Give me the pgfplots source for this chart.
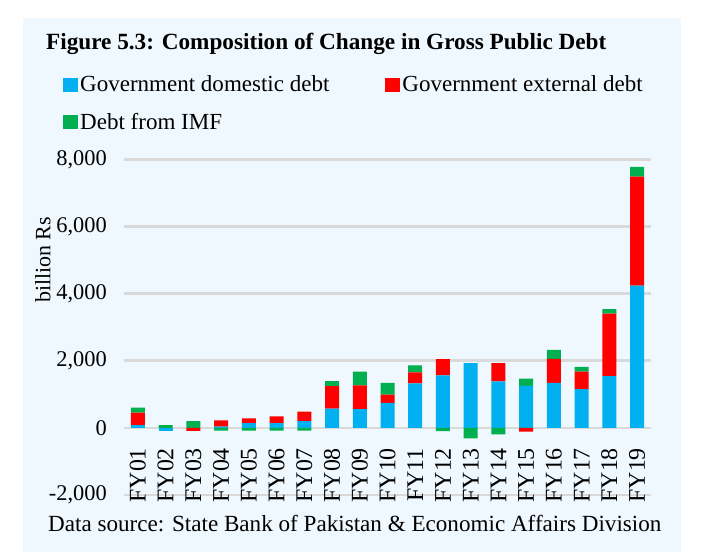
\documentclass[border=0pt]{standalone}
\usepackage{pgfplots}
\pgfplotsset{compat=1.18}
\usepackage{pgfplotstable}
\usepackage{fontspec}
\setmainfont{Liberation Serif}
\definecolor{panel}{RGB}{239,248,254}
\definecolor{cdom}{RGB}{0,176,240}
\definecolor{cext}{RGB}{255,0,0}
\definecolor{cimf}{RGB}{0,176,80}
\definecolor{gridc}{RGB}{217,217,217}

% positive parts of each year's change (billion Rs)
\pgfplotstableread{
x dom ext imf
0 80 375 150
1 0 0 80
2 0 0 200
3 40 180 0
4 140 140 0
5 140 200 0
6 200 285 0
7 575 665 150
8 555 707 415
9 747 243 353
10 1323 333 202
11 1566 484 0
12 1929 0 0
13 1384 545 0
14 1252 0 213
15 1340 716 268
16 1152 526 139
17 1539 1867 129
18 4240 3247 288
}\pos

% negative parts
\pgfplotstableread{
x dom ext imf
0 0 0 0
1 -100 0 0
2 0 -90 0
3 0 0 -80
4 0 0 -80
5 0 0 -80
6 0 0 -80
7 0 0 0
8 0 0 0
9 0 0 0
10 0 0 0
11 0 0 -100
12 0 0 -313
13 0 0 -192
14 0 -110 0
15 0 0 0
16 0 0 0
17 0 0 0
18 0 0 0
}\negs

\pgfplotsset{
  myaxis/.style={
    at={(124bp,65bp)}, anchor=south west,
    scale only axis, width=527bp, height=335.7bp,
    xmin=-0.5, xmax=18.5, ymin=-2000, ymax=8000,
    ybar stacked, bar width=14bp,
  },
}

\begin{document}
\begin{tikzpicture}
\fill[white] (0bp,0bp) rectangle (704bp,560bp);
\fill[panel] (22.7bp,8.3bp) rectangle (681bp,542bp);
\node[anchor=base west, inner sep=0pt, font=\fontsize{23.3}{26}\selectfont\bfseries] at (46bp,510bp) {Figure 5.3: Composition of Change in Gross Public Debt};
\node[anchor=base west, inner sep=0pt, font=\fontsize{23.2}{26}\selectfont] at (48bp,28.3bp) {Data source: State Bank of Pakistan \& Economic Affairs Division};

\begin{axis}[myaxis,
  axis x line*=middle, axis y line*=left,
  x axis line style={draw=none}, y axis line style={draw=none},
  xtick style={draw=none}, ytick style={draw=none},
  xtick={0,...,18},
  xticklabels={FY01,FY02,FY03,FY04,FY05,FY06,FY07,FY08,FY09,FY10,FY11,FY12,FY13,FY14,FY15,FY16,FY17,FY18,FY19},
  xticklabel style={font=\fontsize{24}{26}\selectfont, inner sep=0pt, yshift=-20bp, rotate=90, anchor=east},
  ytick={-2000,0,2000,4000,6000,8000},
  scaled y ticks=false,
  /pgf/number format/assume math mode=true,
  /pgf/number format/1000 sep={,},
  yticklabel style={font=\fontsize{22.5}{26}\selectfont, inner sep=0pt, xshift=-17bp, anchor=east},
  ymajorgrids, major grid style={line width=2.7bp, color=gridc},
  ylabel={billion Rs},
  every axis y label/.style={at={(axis description cs:-0.1537,0.70)}, rotate=90, anchor=center, font=\fontsize{22}{26}\selectfont},
  legend columns=2,
  legend cell align=left,
  legend style={draw=none, fill=none, font=\fontsize{23.1}{26}\selectfont,
    at={(axis description cs:-0.1157,1.255)}, anchor=north west,
    row sep=16bp, inner sep=0pt,
    /tikz/every even column/.append style={column sep=54bp}},
  legend image code/.code={\fill[#1] (0bp,-7bp) rectangle (15bp,7bp);},
]
\addplot[fill=cdom, draw=none] table[x=x, y=dom] {\pos};
\addplot[fill=cext, draw=none] table[x=x, y=ext] {\pos};
\addplot[fill=cimf, draw=none] table[x=x, y=imf] {\pos};
\legend{Government domestic debt, Government external debt, Debt from IMF}
\end{axis}

\begin{axis}[myaxis, hide axis]
\addplot[fill=cdom, draw=none] table[x=x, y=dom] {\negs};
\addplot[fill=cext, draw=none] table[x=x, y=ext] {\negs};
\addplot[fill=cimf, draw=none] table[x=x, y=imf] {\negs};
\end{axis}
\end{tikzpicture}
\end{document}
